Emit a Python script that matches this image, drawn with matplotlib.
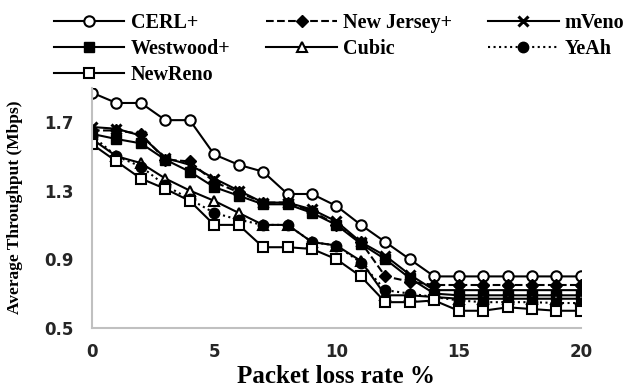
import matplotlib
matplotlib.use('Agg')
import matplotlib.pyplot as plt

loss_rate = list(range(21))

cerl = [1.87, 1.81, 1.81, 1.71, 1.71, 1.51, 1.45, 1.41, 1.28, 1.28, 1.21,
        1.10, 1.00, 0.90, 0.80, 0.80, 0.80, 0.80, 0.80, 0.80, 0.80]
new_jersey = [1.65, 1.65, 1.63, 1.48, 1.47, 1.35, 1.29, 1.23, 1.23, 1.18, 1.10,
              1.00, 0.80, 0.77, 0.75, 0.75, 0.75, 0.75, 0.75, 0.75, 0.75]
mveno = [1.67, 1.66, 1.62, 1.49, 1.45, 1.37, 1.30, 1.23, 1.23, 1.19, 1.12,
         1.00, 0.92, 0.81, 0.72, 0.72, 0.72, 0.72, 0.72, 0.72, 0.72]
westwood = [1.63, 1.60, 1.575, 1.48, 1.41, 1.32, 1.27, 1.22, 1.22, 1.17, 1.10,
            0.99, 0.90, 0.79, 0.70, 0.69, 0.69, 0.69, 0.69, 0.69, 0.69]
cubic = [1.60, 1.50, 1.46, 1.37, 1.30, 1.24, 1.17, 1.10, 1.10, 1.00, 0.98,
         0.89, 0.69, 0.69, 0.68, 0.67, 0.67, 0.67, 0.67, 0.67, 0.67]
yeah = [1.62, 1.50, 1.44, 1.33, 1.25, 1.17, 1.13, 1.10, 1.10, 1.00, 0.98,
        0.88, 0.72, 0.70, 0.68, 0.66, 0.65, 0.65, 0.65, 0.645, 0.645]
newreno = [1.57, 1.47, 1.37, 1.31, 1.24, 1.10, 1.10, 0.97, 0.97, 0.96, 0.90,
           0.80, 0.65, 0.65, 0.66, 0.60, 0.60, 0.62, 0.61, 0.60, 0.60]

y_ticks = [0.5, 0.9, 1.3, 1.7]
x_ticks = [0, 5, 10, 15, 20]

fig = plt.figure(figsize=(6.28, 3.89), dpi=100)
ax = fig.add_axes([0.1465, 0.157, 0.7785, 0.618])

lw = 1.5
ms = 7.5
l_cerl, = ax.plot(loss_rate, cerl, '-o', color='black', lw=lw, ms=ms,
                  mfc='white', mec='black', mew=1.5, label='CERL+')
l_nj, = ax.plot(loss_rate, new_jersey, '--D', color='black', lw=lw, ms=6,
                mfc='black', label='New Jersey+')
l_mv, = ax.plot(loss_rate, mveno, '-x', color='black', lw=lw, ms=6.5,
                mew=2.2, label='mVeno')
l_ww, = ax.plot(loss_rate, westwood, '-s', color='black', lw=lw, ms=ms,
                mfc='black', label='Westwood+')
l_cu, = ax.plot(loss_rate, cubic, '-^', color='black', lw=lw, ms=ms,
                mfc='white', mec='black', mew=1.5, label='Cubic')
l_ye, = ax.plot(loss_rate, yeah, ':o', color='black', lw=lw, ms=ms,
                mfc='black', label='YeAh')
l_nr, = ax.plot(loss_rate, newreno, '-s', color='black', lw=lw, ms=ms,
                mfc='white', mec='black', mew=1.5, label='NewReno')

ax.set_xlim(0, 20)
ax.set_ylim(0.5, 1.9)
ax.set_xticks(x_ticks)
ax.set_yticks(y_ticks)
ax.set_yticklabels([f'{v:.1f}' for v in y_ticks])
ax.tick_params(length=0, labelsize=12, labelcolor='#262626')
ax.tick_params(axis='y', pad=13.5)
ax.tick_params(axis='x', pad=11)
for t in ax.get_xticklabels() + ax.get_yticklabels():
    t.set_fontweight('bold')

for side in ['top', 'right']:
    ax.spines[side].set_visible(False)
for side in ['left', 'bottom']:
    ax.spines[side].set_color('#c0c0c0')
    ax.spines[side].set_linewidth(1.5)

serif = 'Liberation Serif'
ax.set_xlabel('Packet loss rate %', fontfamily=serif, fontweight='bold',
              fontsize=18, labelpad=3)
ax.set_ylabel('Average Throughput (Mbps)', fontfamily=serif,
              fontweight='bold', fontsize=12.5, labelpad=15)

handles = [l_cerl, l_ww, l_nr, l_nj, l_cu, l_mv, l_ye]
fig.legend(handles=handles, labels=[h.get_label() for h in handles],
           ncol=3, loc='upper left', bbox_to_anchor=(54 / 628, 0.967),
           frameon=False, borderpad=0, borderaxespad=0,
           handlelength=3.5, handletextpad=0.3, columnspacing=1.8,
           labelspacing=0.3,
           prop={'family': serif, 'weight': 'bold', 'size': 14.5})

fig.savefig('out.png', dpi=100)
